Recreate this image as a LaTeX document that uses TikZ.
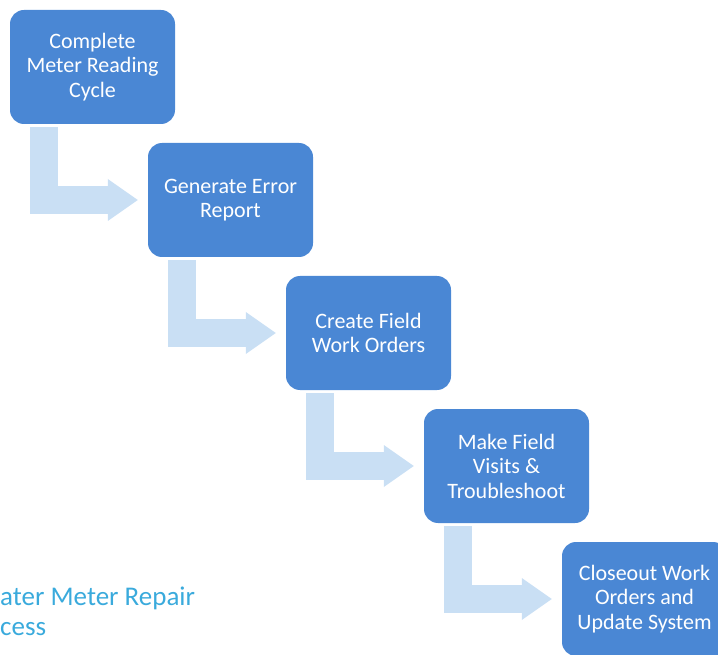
\documentclass[tikz,border=0pt]{standalone}
\usepackage{fontspec}
\setmainfont{Carlito}
\usetikzlibrary{positioning, arrows.meta}
\definecolor{cStep}{HTML}{4A87D4}
\definecolor{cFlow}{HTML}{C9DFF4}
\definecolor{cTitle}{HTML}{3AAADC}

\begin{document}
\begin{tikzpicture}[x=1pt, y=-1pt,
    stepbox/.style={fill=cStep, rounded corners=14pt, minimum width=165pt,
      minimum height=114pt, inner sep=0pt, align=center, text=white,
      font=\fontsize{22}{24.5}\selectfont},
    flow/.style={draw=cFlow, line width=28pt,
      -{Triangle[width=42pt, length=30pt, line width=0pt]}}]
  \useasboundingbox (0,0) rectangle (718,655);

  % the five steps, stepping down to the right
  \foreach \i/\txt in {%
      0/{Complete\\Meter Reading\\Cycle},
      1/{Generate Error\\Report},
      2/{Create Field\\Work Orders},
      3/{Make Field\\Visits \&\\Troubleshoot},
      4/{Closeout Work\\Orders and\\Update System}%
    }{
      \pgfmathsetmacro{\xpos}{92.5 + \i*138}
      \pgfmathsetmacro{\ypos}{67 + \i*133}
      \node[stepbox] (b\i) at (\xpos, \ypos) {\txt};
    }

  % bent arrows between the steps
  \foreach \i [count=\j from 1] in {0,...,3}{
      \draw[flow] ([xshift=34pt, yshift=-3pt]b\i.south west)
        |- ([xshift=-10pt]b\j.west);
    }

  % title, running off the left edge
  \node[anchor=base west, inner sep=0pt, text=cTitle,
    font=\fontsize{27}{30}\selectfont] (title1) at (0,605) {ater Meter Repair};
  \node[anchor=base west, inner sep=0pt, text=cTitle,
    font=\fontsize{27}{30}\selectfont] (title2) at (0,635) {cess};
\end{tikzpicture}
\end{document}
